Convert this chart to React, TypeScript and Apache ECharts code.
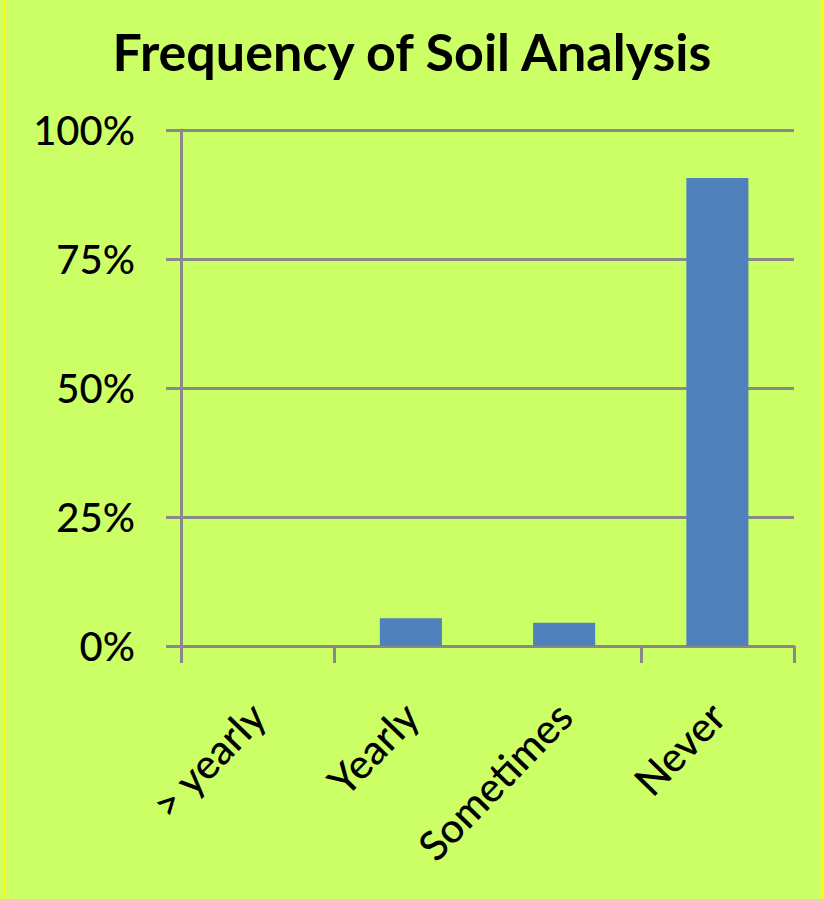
import React, { useEffect, useRef } from "react";
import * as echarts from "echarts";

// Survey: how often soil analysis is done
const categories = ["> yearly", "Yearly", "Sometimes", "Never"];
const shares = [0, 5.4, 4.5, 90.7];
const yTicks = [0, 25, 50, 75, 100];

const FONT = "Lato, 'Open Sans', 'DejaVu Sans', sans-serif";
const GRAY = "#898989";

export default function App() {
  const ref = useRef<HTMLDivElement>(null);

  useEffect(() => {
    if (!ref.current) return;
    const chart = echarts.init(ref.current, null, { renderer: "svg" });
    chart.setOption({
      animation: false,
      backgroundColor: "#ccff66",
      title: {
        text: "Frequency of Soil Analysis",
        left: "center",
        top: 20,
        textStyle: {
          fontFamily: FONT,
          fontWeight: "bold",
          fontSize: 52,
          color: "#000",
        },
      },
      graphic: [
        { type: "line", shape: { x1: 5, y1: 0, x2: 5, y2: 899 }, style: { stroke: "#ffff00", lineWidth: 2 } },
        { type: "line", shape: { x1: 822, y1: 0, x2: 822, y2: 899 }, style: { stroke: "#ffff00", lineWidth: 2 } },
      ],
      grid: { left: 181, right: 30, top: 130, bottom: 253, containLabel: false },
      xAxis: {
        type: "category",
        data: categories,
        axisLine: { lineStyle: { color: GRAY, width: 3 } },
        axisTick: {
          show: true,
          length: 17,
          interval: (index: number) => index !== 2,
          lineStyle: { color: GRAY, width: 3 },
        },
        axisLabel: {
          rotate: 46,
          margin: 63,
          fontFamily: FONT,
          fontSize: 41,
          fontWeight: 500,
          color: "#000",
        },
      },
      yAxis: {
        type: "value",
        min: 0,
        max: 100,
        interval: 25,
        axisLine: { show: true, lineStyle: { color: GRAY, width: 3 } },
        axisTick: { show: true, length: 15, lineStyle: { color: GRAY, width: 3 } },
        splitLine: { show: true, lineStyle: { color: GRAY, width: 3 } },
        axisLabel: {
          margin: 46,
          fontFamily: FONT,
          fontSize: 40,
          fontWeight: 500,
          color: "#000",
          formatter: (v: number) => (yTicks.includes(v) ? v + "%" : ""),
        },
      },
      series: [
        {
          type: "bar",
          data: shares,
          barWidth: "40.5%",
          itemStyle: { color: "#4f81bd", borderWidth: 0 },
        },
      ],
    });
    return () => chart.dispose();
  }, []);

  return (
    <div
      ref={ref}
      style={{ position: "fixed", left: 0, top: 0, width: 824, height: 899 }}
    />
  );
}
